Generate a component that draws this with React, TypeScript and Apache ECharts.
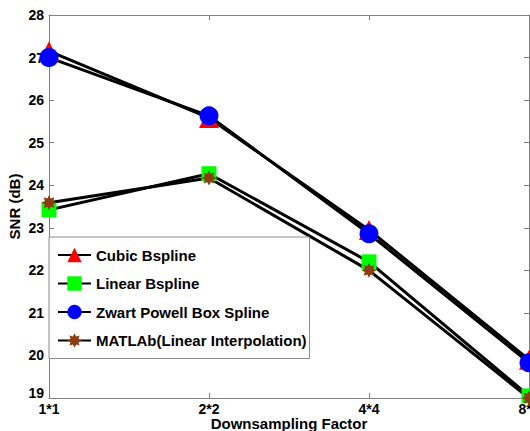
import React, { useEffect, useRef } from "react";
import * as echarts from "echarts";

const categories = ["1*1", "2*2", "4*4", "8*8"];
const cubicBspline = [27.15, 25.58, 22.95, 19.9];
const linearBspline = [23.42, 24.27, 22.2, 19.05];
const zwartPowell = [27.0, 25.63, 22.86, 19.83];
const matlabLinear = [23.59, 24.17, 22.0, 19.0];

const starPath =
  "path://M100,50 L77.7,61.5 L85.4,85.4 L61.5,77.7 L50,100 L38.5,77.7 L14.6,85.4 L22.3,61.5 L0,50 L22.3,38.5 L14.6,14.6 L38.5,22.3 L50,0 L61.5,22.3 L85.4,14.6 L77.7,38.5 Z";

const FONT = "'Liberation Sans', Arial, Helvetica, sans-serif";

export default function App() {
  const ref = useRef<HTMLDivElement>(null);
  useEffect(() => {
    const chart = echarts.init(ref.current!, null, { renderer: "svg" });
    const axisLine = { show: true, lineStyle: { color: "#808080", width: 1 } };
    const mkSeries = (name: string, data: number[], symbol: string, size: number, color: string) => ({
      name,
      type: "line",
      data,
      symbol,
      symbolSize: size,
      showAllSymbol: true,
      lineStyle: { color: "#000", width: 3 },
      itemStyle: { color, borderWidth: 0 },
      xAxisIndex: 0,
      yAxisIndex: 0,
    });
    chart.setOption({
      animation: false,
      backgroundColor: "#fff",
      textStyle: { fontFamily: FONT },
      grid: { left: 49, right: 1, top: 15, bottom: 33, containLabel: false, outerBoundsMode: "none" },
      legend: {
        orient: "vertical",
        left: 49,
        top: 237,
        padding: [9, 3, 9, 8],
        itemGap: 10.5,
        itemWidth: 33,
        itemHeight: 18,
        backgroundColor: "#fff",
        borderColor: "#8a8a8a",
        borderWidth: 1,
        textStyle: { fontFamily: FONT, fontWeight: "bold", fontSize: 15, color: "#000", lineHeight: 18 },
        data: ["Cubic Bspline", "Linear Bspline", "Zwart Powell Box Spline", "MATLAb(Linear Interpolation)"],
      },
      xAxis: [
        {
          type: "category",
          data: categories,
          boundaryGap: false,
          name: "Downsampling Factor",
          nameLocation: "middle",
          nameGap: 18,
          nameMoveOverlap: false,
          nameTextStyle: { fontFamily: FONT, fontWeight: "bold", fontSize: 15, color: "#000", lineHeight: 15 },
          axisLine,
          axisTick: { show: true, inside: true, length: 5, lineStyle: { color: "#808080" } },
          axisLabel: { fontFamily: FONT, fontWeight: "bold", fontSize: 14, color: "#000", margin: 4, lineHeight: 14 },
          splitLine: { show: false },
        },
        {
          type: "category",
          data: categories,
          boundaryGap: false,
          position: "top",
          axisLine,
          axisTick: { show: true, inside: true, length: 5, lineStyle: { color: "#808080" } },
          axisLabel: { show: false },
          splitLine: { show: false },
        },
      ],
      yAxis: [
        {
          type: "value",
          min: 19,
          max: 28,
          interval: 1,
          name: "SNR (dB)",
          nameLocation: "middle",
          nameGap: 27,
          nameMoveOverlap: false,
          nameRotate: 90,
          nameTextStyle: { fontFamily: FONT, fontWeight: "bold", fontSize: 15, color: "#000" },
          axisLine,
          axisTick: { show: true, inside: true, length: 5, lineStyle: { color: "#808080" } },
          axisLabel: {
            fontFamily: FONT,
            fontWeight: "bold",
            fontSize: 14,
            color: "#000",
            margin: 5,
            formatter: (v: number) => (v === 19 ? "{low|19}" : String(v)),
            rich: { low: { fontFamily: FONT, fontWeight: "bold", fontSize: 14, color: "#000", padding: [0, 0, 10, 0] } },
          },
          splitLine: { show: false },
        },
        {
          type: "value",
          min: 19,
          max: 28,
          interval: 1,
          position: "right",
          axisLine,
          axisTick: { show: true, inside: true, length: 5, lineStyle: { color: "#808080" } },
          axisLabel: { show: false },
          splitLine: { show: false },
        },
      ],
      series: [
        mkSeries("Cubic Bspline", cubicBspline, "triangle", 20, "#ff0000"),
        mkSeries("Linear Bspline", linearBspline, "rect", 15, "#00ff00"),
        mkSeries("Zwart Powell Box Spline", zwartPowell, "circle", 19, "#0000ff"),
        mkSeries("MATLAb(Linear Interpolation)", matlabLinear, starPath, 15, "#8c3c10"),
      ],
    });
    return () => chart.dispose();
  }, []);
  return (
    <div style={{ position: "fixed", left: 0, top: 0, width: 530, height: 431, overflow: "hidden", background: "#fff" }}>
      <div ref={ref} style={{ width: 530, height: 431 }} />
    </div>
  );
}
